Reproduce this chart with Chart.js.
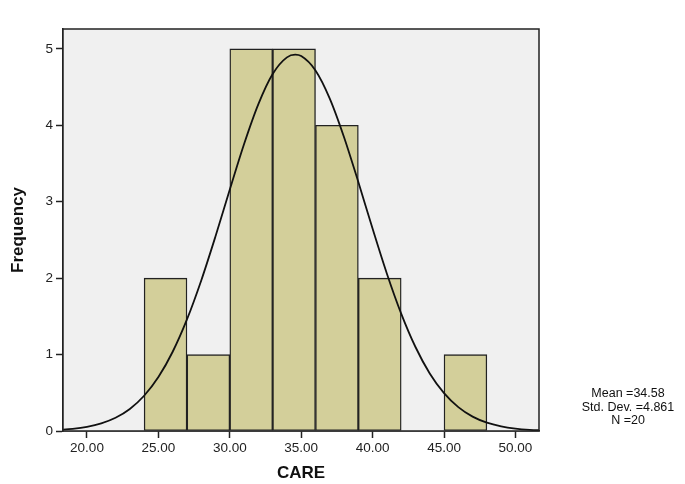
<!DOCTYPE html>
<html>
<head>
<meta charset="utf-8">
<script src="https://cdn.jsdelivr.net/npm/chart.js@4/dist/chart.umd.min.js"></script>
<style>
html,body{margin:0;padding:0;background:#fff;}
#wrap{width:685px;height:484px;position:relative;}
</style>
</head>
<body>
<div id="wrap"><canvas id="c" width="685" height="484"></canvas></div>
<script>
// Histogram bins (centers of 3-unit bins) and frequencies
const binCenters = [25.5, 28.5, 31.5, 34.5, 37.5, 40.5, 43.5, 46.5];
const frequencies = [2, 1, 5, 5, 4, 2, 0, 1];
// Normal curve points
const curveX = [18, 19, 20, 21, 22, 23, 24, 25, 26, 27, 28, 29, 30, 31, 32, 33, 34, 34.58, 35, 36, 37, 38, 39, 40, 41, 42, 43, 44, 45, 46, 47, 48, 49, 50, 51, 52];
const curveY = [0.015, 0.029, 0.055, 0.10, 0.173, 0.288, 0.461, 0.706, 1.037, 1.46, 1.97, 2.548, 3.159, 3.755, 4.277, 4.671, 4.889, 4.924, 4.906, 4.718, 4.35, 3.844, 3.257, 2.645, 2.058, 1.536, 1.099, 0.753, 0.495, 0.312, 0.188, 0.109, 0.061, 0.032, 0.016, 0.008];
const xTicks = [20, 25, 30, 35, 40, 45, 50];
const yTicks = [0, 1, 2, 3, 4, 5];
const statsText = ["Mean =34.58", "Std. Dev. =4.861", "N =20"];

const FONT = 'Arial, "Liberation Sans", sans-serif';

const framePlugin = {
  id: 'frame',
  beforeDatasetsDraw(chart) {
    const {ctx, chartArea: a} = chart;
    ctx.save();
    ctx.fillStyle = '#f0f0f0';
    ctx.fillRect(a.left, a.top, a.right - a.left, a.bottom - a.top);
    ctx.restore();
  },
  afterDatasetsDraw(chart) {
    const {ctx, chartArea: a} = chart;
    ctx.save();
    ctx.strokeStyle = '#222';
    ctx.lineWidth = 1.5;
    ctx.strokeRect(a.left, a.top, a.right - a.left, a.bottom - a.top);
    ctx.restore();
  },
  afterDraw(chart) {
    const {ctx} = chart;
    ctx.save();
    ctx.fillStyle = '#111';
    ctx.font = '12.5px ' + FONT;
    ctx.textAlign = 'center';
    ctx.textBaseline = 'middle';
    const cx = 628, y0 = 394;
    statsText.forEach((t, i) => ctx.fillText(t, cx, y0 + i * 13.5));
    ctx.restore();
  }
};

new Chart(document.getElementById('c'), {
  data: {
    datasets: [
      {
        type: 'line',
        data: curveX.map((x, i) => ({x: x, y: curveY[i]})),
        borderColor: '#111',
        borderWidth: 1.8,
        pointRadius: 0,
        cubicInterpolationMode: 'monotone',
        fill: false,
        order: 0
      },
      {
        type: 'bar',
        data: binCenters.map((x, i) => ({x: x, y: frequencies[i]})),
        backgroundColor: '#d3cf9a',
        borderColor: '#222',
        borderWidth: 1.4,
        borderSkipped: false,
        barPercentage: 1,
        categoryPercentage: 1,
        order: 1
      }
    ]
  },
  options: {
    responsive: false,
    animation: false,
    layout: {padding: {top: 29, right: 146, left: 0, bottom: 0}},
    plugins: {legend: {display: false}, tooltip: {enabled: false}},
    scales: {
      x: {
        type: 'linear',
        offset: false,
        min: 18.32,
        max: 51.65,
        afterBuildTicks(s) { s.ticks = xTicks.map(v => ({value: v})); },
        afterFit(s) { s.height = 53; },
        grid: {offset: false, drawOnChartArea: false, drawTicks: true, tickLength: 7, tickWidth: 1.5, tickColor: '#222'},
        border: {display: true, color: '#222', width: 1.5},
        ticks: {
          color: '#222',
          padding: 2,
          maxRotation: 0,
          font: {family: FONT, size: 13.5},
          callback: v => v.toFixed(2)
        },
        title: {
          display: true,
          text: 'CARE',
          color: '#111',
          padding: {top: 1, bottom: 0},
          font: {family: FONT, size: 17, weight: 'bold'}
        }
      },
      y: {
        type: 'linear',
        min: 0,
        max: 5.26,
        afterBuildTicks(s) { s.ticks = yTicks.map(v => ({value: v})); },
        afterFit(s) { s.width = 63; },
        grid: {drawOnChartArea: false, drawTicks: true, tickLength: 7, tickWidth: 1.5, tickColor: '#222'},
        border: {display: true, color: '#222', width: 1.5},
        ticks: {
          color: '#222',
          padding: 3,
          font: {family: FONT, size: 13.5}
        },
        title: {
          display: true,
          text: 'Frequency',
          color: '#111',
          padding: {top: 8, bottom: 0},
          font: {family: FONT, size: 17, weight: 'bold'}
        }
      }
    }
  },
  plugins: [framePlugin]
});
</script>
</body>
</html>
